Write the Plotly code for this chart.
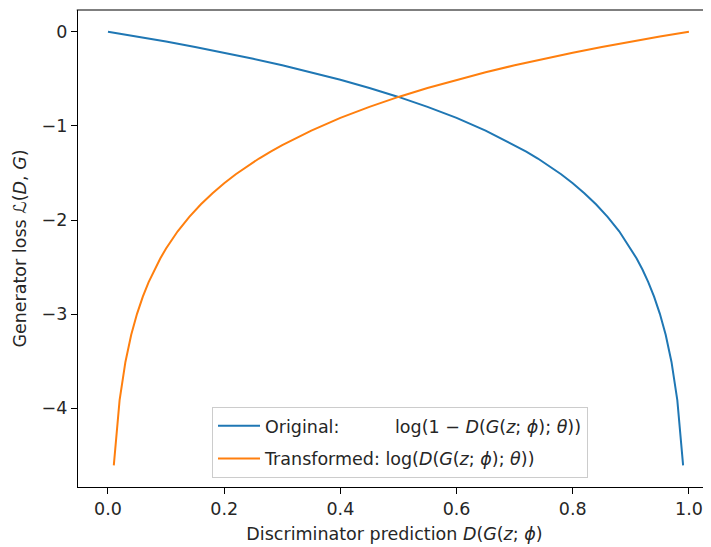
import plotly.graph_objects as go

# Original generator loss: log(1 - D)
orig_d = [0.00, 0.05, 0.10, 0.15, 0.20, 0.25, 0.30, 0.35, 0.40, 0.45, 0.50, 0.55, 0.60, 0.65, 0.70,
          0.72, 0.74, 0.76, 0.78, 0.80, 0.82, 0.84, 0.86, 0.88, 0.90,
          0.91, 0.92, 0.93, 0.94, 0.95, 0.96, 0.97, 0.98, 0.99]
orig_loss = [0.0, -0.051, -0.105, -0.163, -0.223, -0.288, -0.357, -0.431, -0.511, -0.598, -0.693,
             -0.799, -0.916, -1.050, -1.204,
             -1.273, -1.347, -1.427, -1.514, -1.609, -1.715, -1.833, -1.966, -2.120, -2.303,
             -2.408, -2.526, -2.659, -2.813, -2.996, -3.219, -3.507, -3.912, -4.605]

# Transformed generator loss: log(D)
trans_d = [0.01, 0.02, 0.03, 0.04, 0.05, 0.06, 0.07, 0.08, 0.09, 0.10,
           0.12, 0.14, 0.16, 0.18, 0.20, 0.22, 0.24, 0.26, 0.28, 0.30,
           0.35, 0.40, 0.45, 0.50, 0.55, 0.60, 0.65, 0.70, 0.75, 0.80, 0.85, 0.90, 0.95, 1.00]
trans_loss = [-4.605, -3.912, -3.507, -3.219, -2.996, -2.813, -2.659, -2.526, -2.408, -2.303,
              -2.120, -1.966, -1.833, -1.715, -1.609, -1.514, -1.427, -1.347, -1.273, -1.204,
              -1.050, -0.916, -0.799, -0.693, -0.598, -0.511, -0.431, -0.357, -0.288, -0.223,
              -0.163, -0.105, -0.051, 0.0]

x_ticks = [0.0, 0.2, 0.4, 0.6, 0.8, 1.0]
y_ticks = [0, -1, -2, -3, -4]

FONT = "DejaVu Sans"
FS = 17.5
TXT = "#262626"
math_orig = "log(1 − <i>D</i>(<i>G</i>(<i>z</i>; <i>ϕ</i>); <i>θ</i>))"
math_trans = "log(<i>D</i>(<i>G</i>(<i>z</i>; <i>ϕ</i>); <i>θ</i>))"

fig = go.Figure()
fig.add_trace(go.Scatter(
    x=orig_d, y=orig_loss, mode="lines",
    line=dict(color="#1f77b4", width=2),
    name="Original:" + "&nbsp;" * 10 + math_orig,
    legendgroup="a",
))
fig.add_trace(go.Scatter(
    x=trans_d, y=trans_loss, mode="lines",
    line=dict(color="#ff7f0e", width=2),
    name="Transformed: " + math_trans,
    legendgroup="b",
))

axis_common = dict(
    showgrid=False, zeroline=False, showline=True, linecolor="black", linewidth=1.2,
    ticks="outside", ticklen=6, tickwidth=1.1, tickcolor="black", automargin=False,
    tickfont=dict(family=FONT, size=FS, color=TXT),
)

# the page body adds an 8 px offset, so the figure is 8 px smaller than the window
fig.update_layout(
    width=703, height=539,
    margin=dict(l=70, r=0, t=2, b=60),
    paper_bgcolor="white", plot_bgcolor="white",
    font=dict(family=FONT, size=FS, color=TXT),
    showlegend=True,
    legend=dict(
        x=0.2117, y=0.019, xanchor="left", yanchor="bottom",
        bgcolor="rgba(255,255,255,0.8)", bordercolor="#cccccc", borderwidth=1,
        font=dict(family=FONT, size=FS, color=TXT),
        traceorder="grouped", tracegroupgap=7, itemwidth=42,
    ),
    xaxis=dict(
        range=[-0.0516, 1.038], tickvals=x_ticks, tickformat=".1f",
        title=dict(text="Discriminator prediction <i>D</i>(<i>G</i>(<i>z</i>; <i>ϕ</i>)",
                   font=dict(family=FONT, size=FS, color=TXT), standoff=9),
        **axis_common,
    ),
    yaxis=dict(
        range=[-4.835, 0.23], tickvals=y_ticks, mirror=False,
        title=dict(text="Generator loss ℒ(<i>D</i>, <i>G</i>)",
                   font=dict(family=FONT, size=FS, color=TXT), standoff=10),
        **axis_common,
    ),
    shapes=[dict(type="line", xref="paper", yref="paper", x0=-0.002, x1=1, y0=1, y1=1,
                 line=dict(color="black", width=1.2), layer="above")],
)

fig.write_html("out.html")
